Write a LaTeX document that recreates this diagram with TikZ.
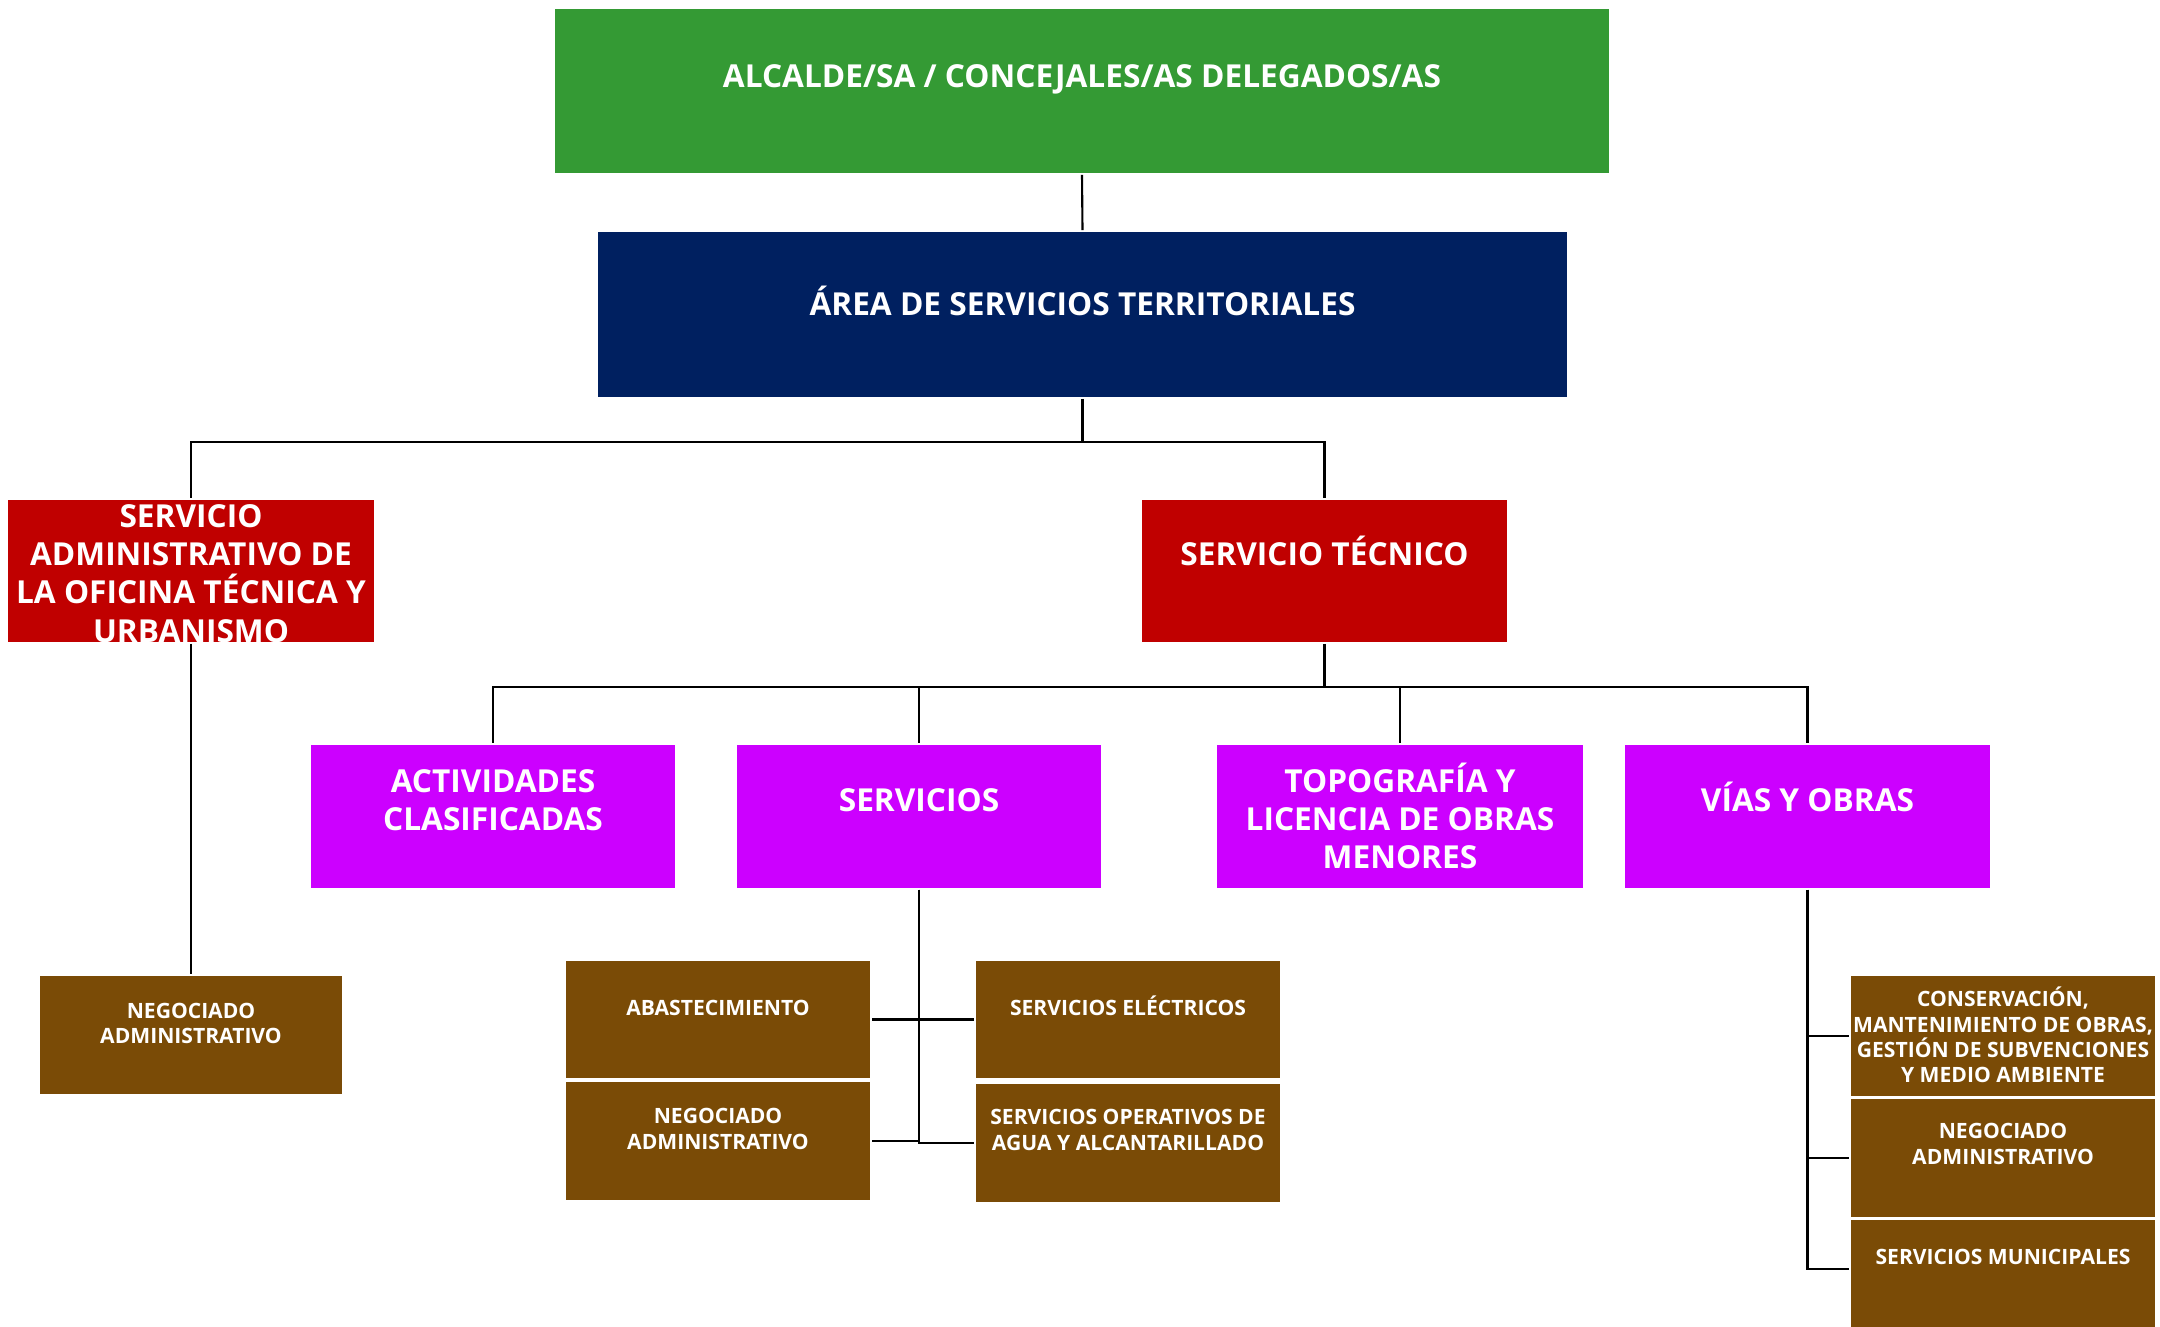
\documentclass[tikz,border=0pt]{standalone}
\usepackage{fontspec}
\setmainfont{Open Sans}

\definecolor{alcgreen}{RGB}{52,154,52}
\definecolor{areablue}{RGB}{0,32,96}
\definecolor{servred}{RGB}{192,0,0}
\definecolor{secmag}{RGB}{204,0,255}
\definecolor{negbrown}{RGB}{122,75,6}

\tikzset{
  box/.style 2 args={draw=white, line width=0.5pt, inner sep=0pt,
    minimum width=#1*0.01cm, minimum height=#2*0.01cm},
  bigtxt/.style={text=white, align=center, inner sep=0pt,
    font=\bfseries\fontsize{9}{10.9}\selectfont},
  smalltxt/.style={text=white, align=center, inner sep=0pt,
    font=\bfseries\fontsize{6}{7.2}\selectfont},
  link/.style={line width=0.6pt}
}

\begin{document}
\begin{tikzpicture}[x=0.01cm, y=-0.01cm]
\useasboundingbox (0,0) rectangle (2160,1327);

%% top levels
\node[box={1056}{166}, fill=alcgreen] (alc) at (1082,91) {};
\node[box={971}{167}, fill=areablue] (ast) at (1082.5,314.5) {};
\node[box={368}{144}, fill=servred] (sadm) at (191,571) {};
\node[box={367}{144}, fill=servred] (stec) at (1324.5,571) {};

%% sections
\node[box={366}{145}, fill=secmag] (act) at (493,816.5) {};
\node[box={366}{145}, fill=secmag] (serv) at (919,816.5) {};
\node[box={368}{145}, fill=secmag] (topo) at (1400,816.5) {};
\node[box={367}{145}, fill=secmag] (vias) at (1807.5,816.5) {};

%% units
\node[box={304}{120}, fill=negbrown] (neg1) at (191,1035) {};
\node[box={306}{119}, fill=negbrown] (abas) at (718,1019.5) {};
\node[box={306}{120}, fill=negbrown] (neg2) at (718,1141) {};
\node[box={306}{119}, fill=negbrown] (elec) at (1128,1019.5) {};
\node[box={306}{120}, fill=negbrown] (agua) at (1128,1143) {};
\node[box={306}{122}, fill=negbrown] (cons) at (2003,1036) {};
\node[box={306}{120}, fill=negbrown] (neg3) at (2003,1158) {};
\node[box={306}{121}, fill=negbrown] (mun) at (2003,1279.5) {};

%% texts
\node[bigtxt] (alc-t) at (1082,79) {ALCALDE/SA / CONCEJALES/AS DELEGADOS/AS};
\node[bigtxt] (ast-t) at (1082.5,301) {ÁREA DE SERVICIOS TERRITORIALES};
\node[bigtxt] (sadm-t) at (191,573.5)
  {SERVICIO\\ADMINISTRATIVO DE\\LA OFICINA TÉCNICA Y\\URBANISMO};
\node[bigtxt] (stec-t) at (1324.5,551) {SERVICIO TÉCNICO};
\node[bigtxt] (act-t) at (493,800) {ACTIVIDADES\\CLASIFICADAS};
\node[bigtxt] (serv-t) at (919,800) {SERVICIOS};
\node[bigtxt] (topo-t) at (1400,816) {TOPOGRAFÍA Y\\LICENCIA DE OBRAS\\MENORES};
\node[bigtxt] (vias-t) at (1807.5,797) {VÍAS Y OBRAS};
\node[smalltxt] (neg1-t) at (191,1023.5) {NEGOCIADO\\ADMINISTRATIVO};
\node[smalltxt] (abas-t) at (718,1008) {ABASTECIMIENTO};
\node[smalltxt] (neg2-t) at (718,1129) {NEGOCIADO\\ADMINISTRATIVO};
\node[smalltxt] (elec-t) at (1128,1006) {SERVICIOS ELÉCTRICOS};
\node[smalltxt] (agua-t) at (1128,1130)
  {SERVICIOS OPERATIVOS DE\\AGUA Y ALCANTARILLADO};
\node[smalltxt] (cons-t) at (2003,1035)
  {CONSERVACIÓN,\\MANTENIMIENTO DE OBRAS,\\GESTIÓN DE SUBVENCIONES\\Y MEDIO AMBIENTE};
\node[smalltxt] (neg3-t) at (2003,1144) {NEGOCIADO\\ADMINISTRATIVO};
\node[smalltxt] (mun-t) at (2003,1257) {SERVICIOS MUNICIPALES};

%% connectors
\draw[link] (alc.south) -- (ast.north);
\coordinate (busA) at (ast.south |- 0,442);
\draw[link] (ast.south) -- (busA) -| (sadm.north);
\draw[link] (busA) -| (stec.north);
\draw[link] (sadm.south) -- (neg1.north);

\coordinate (busB) at (stec.south |- 0,687);
\draw[link] (stec.south) -- (busB);
\foreach \n in {act,serv,topo,vias}
  \draw[link] (busB) -| (\n.north);

\foreach \n in {abas,neg2}
  \draw[link] (serv.south) |- (\n.east);
\foreach \n in {elec,agua}
  \draw[link] (serv.south) |- (\n.west);

\foreach \n in {cons,neg3}
  \draw[link] (vias.south) |- (\n.west);
\draw[link] (vias.south) |- ([yshift=0.105cm]mun.west);

\end{tikzpicture}
\end{document}
